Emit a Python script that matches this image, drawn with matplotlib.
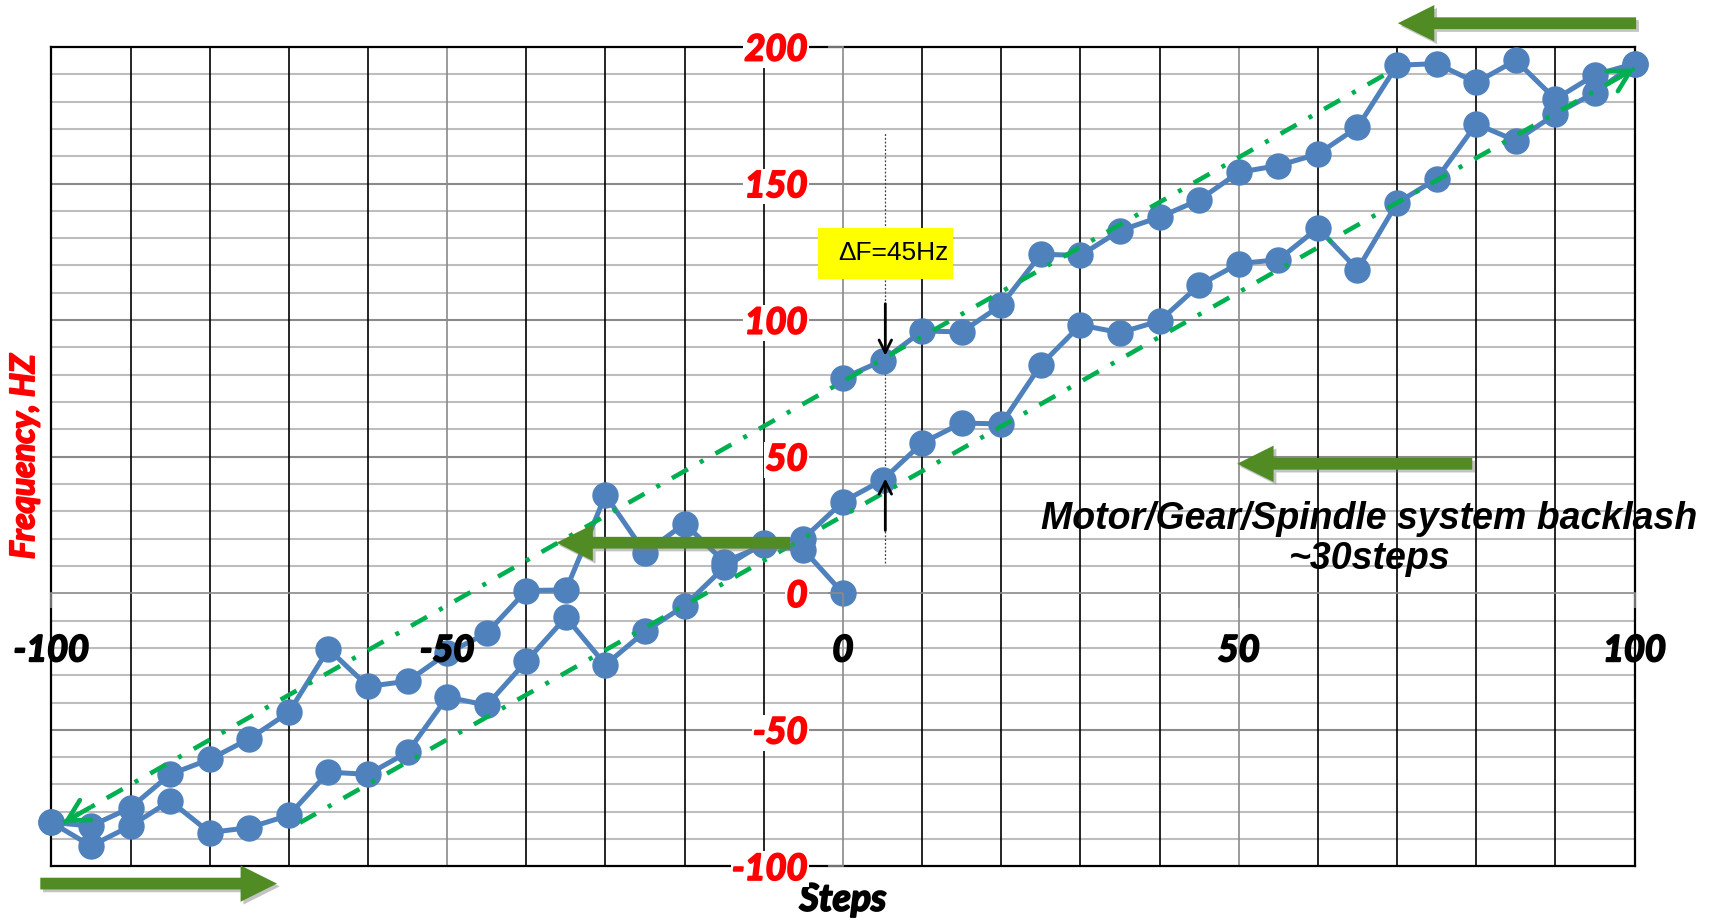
import numpy as np
import matplotlib.pyplot as plt
import matplotlib.patheffects as pe
from matplotlib.patches import FancyArrow, Rectangle

plt.rcParams['axes.unicode_minus'] = False

# --- measured stepper response -------------------------------------------
# first jog: from 0 out to -100 steps
steps_out = [0, -5, -10, -15, -20, -25, -30, -35, -40, -45, -50,
             -55, -60, -65, -70, -75, -80, -85, -90, -95, -100]
freq_out = [0.0, 16.0, 17.5, 11.5, 25.5, 14.8, 35.9, 1.2, 1.0, -14.6, -22.0,
            -32.2, -34.1, -20.4, -43.6, -53.3, -60.8, -66.3, -78.5, -85.2, -83.9]

# forward sweep: -100 -> +100
steps_fwd = [-100, -95, -90, -85, -80, -75, -70, -65, -60, -55, -50,
             -45, -40, -35, -30, -25, -20, -15, -10, -5, 0,
             5, 10, 15, 20, 25, 30, 35, 40, 45, 50,
             55, 60, 65, 70, 75, 80, 85, 90, 95, 100]
freq_fwd = [-83.9, -92.5, -85.2, -76.0, -87.6, -85.8, -81.3, -65.5, -66.3, -58.2, -38.0,
            -41.0, -24.9, -8.8, -26.2, -14.0, -4.5, 9.5, 18.5, 20.0, 33.5,
            41.4, 55.0, 62.3, 62.0, 83.6, 98.2, 95.4, 99.7, 112.8, 120.7,
            122.1, 133.7, 118.5, 142.9, 151.7, 171.8, 165.7, 175.4, 183.3, 193.9]

# reverse sweep: +100 -> 0
steps_rev = [100, 95, 90, 85, 80, 75, 70, 65, 60, 55, 50,
             45, 40, 35, 30, 25, 20, 15, 10, 5, 0]
freq_rev = [193.9, 189.8, 180.9, 195.1, 187.0, 193.9, 193.3, 170.6, 160.8, 156.6, 154.1,
            144.0, 137.7, 132.8, 123.7, 124.1, 105.5, 95.7, 96.0, 85.2, 78.7]

# hand-fitted envelopes of the two sweep directions
trend_upper_x = [-98.5, 69.4]
trend_upper_y = [-84.0, 191.4]
trend_lower_x = [-68.6, 100.0]
trend_lower_y = [-84.0, 192.1]

x_ticks = [-100, -50, 0, 50, 100]
y_ticks = [-100, -50, 0, 50, 100, 150, 200]

# backlash read at +5 steps
delta_f = 45
f_top = 87
backlash_text = "Motor/Gear/Spindle system backlash\n~30steps"

BLUE = '#4f81bd'
GREEN_LINE = '#00b050'
GREEN_ARROW = '#508c23'
GRID_LIGHT = '#bdbdbd'
GRID_DARK = '#8a8a8a'
CALIBRI_LIKE = 'Lato'
ARIAL_LIKE = ['Liberation Sans', 'DejaVu Sans']


def heavy(color):
    # Lato bold is lighter than the usual heavy axis lettering; thicken it a bit
    return [pe.withStroke(linewidth=1.4, foreground=color)]


fig = plt.figure(figsize=(17.13, 9.21), dpi=100)
ax = fig.add_axes([0.0300, 0.0593, 0.9242, 0.8897])
ax.set_xlim(-100, 100)
ax.set_ylim(-100, 200)

# --- grid: black every 10 steps, grey on the 50s -------------------------
for x in np.arange(-90, 100, 10):
    if x == 0:
        continue
    col = GRID_DARK if x % 50 == 0 else 'black'
    ax.axvline(x, color=col, lw=1.2, zorder=0.5)
for y in np.arange(-90, 200, 10):
    if y == 0:
        continue
    col = GRID_DARK if y % 50 == 0 else GRID_LIGHT
    ax.axhline(y, color=col, lw=1.5, zorder=0.4)
for y in (-100, 200):
    ax.axhline(y, color='black', lw=1.6, zorder=0.6, clip_on=False)
for x in (-100, 100):
    ax.axvline(x, color='black', lw=1.6, zorder=0.6, clip_on=False)

# axes cross at the origin
for side in ('top', 'right'):
    ax.spines[side].set_visible(False)
ax.spines['left'].set_position(('data', 0))
ax.spines['bottom'].set_position(('data', 0))
for side in ('left', 'bottom'):
    ax.spines[side].set_color(GRID_DARK)
    ax.spines[side].set_linewidth(1.2)
    ax.spines[side].set_zorder(0.7)

ax.set_xticks(x_ticks)
ax.set_xticklabels([str(v) for v in x_ticks])
ax.set_yticks(y_ticks)
ax.set_yticklabels([str(v) for v in y_ticks])
ax.tick_params(axis='both', direction='out', length=10.5, width=1.2, color=GRID_DARK, labelsize=26)
ax.tick_params(axis='x', pad=19, labelcolor='black')
ax.tick_params(axis='y', pad=15, labelcolor='red')
for lab in ax.get_xticklabels():
    lab.set_path_effects(heavy('black'))
for lab in ax.get_yticklabels():
    lab.set_path_effects(heavy('red'))
    lab.set_bbox(dict(facecolor='white', edgecolor='none', pad=1))
for lab in ax.get_xticklabels() + ax.get_yticklabels():
    lab.set_fontfamily(CALIBRI_LIKE)
    lab.set_fontweight('bold')
    lab.set_fontstyle('italic')
ax.xaxis.set_zorder(7)
ax.yaxis.set_zorder(7)

# --- measurements --------------------------------------------------------
for sx, fy in ((steps_out, freq_out), (steps_fwd, freq_fwd), (steps_rev, freq_rev)):
    ax.plot(sx, fy, color=BLUE, lw=3.6, marker='o', ms=18, mec=BLUE, mfc=BLUE,
            solid_joinstyle='round', zorder=3, clip_on=False)

# envelopes with direction heads
dash = (0, (4.0, 3.0, 0.9, 3.0))
for tx, ty in ((trend_upper_x, trend_upper_y), (trend_lower_x, trend_lower_y)):
    ax.plot(tx, ty, color=GREEN_LINE, lw=3.3, linestyle=dash, zorder=4,
            dash_capstyle='butt', clip_on=False)


def head(tip, other):
    # short stub along the envelope so the head follows its slope
    frac = 0.02
    base = (tip[0] + (other[0] - tip[0]) * frac, tip[1] + (other[1] - tip[1]) * frac)
    ax.annotate('', xy=tip, xytext=base, zorder=4,
                arrowprops=dict(arrowstyle='->,head_length=1.0,head_width=0.55',
                                color=GREEN_LINE, lw=3.3, mutation_scale=15,
                                shrinkA=0, shrinkB=0))


head((trend_upper_x[0], trend_upper_y[0]), (trend_upper_x[1], trend_upper_y[1]))
head((trend_lower_x[1], trend_lower_y[1]), (trend_lower_x[0], trend_lower_y[0]))

# --- backlash annotation ---------------------------------------------------
x_df = 5.35
ax.plot([x_df, x_df], [11, 168.5], color='#404040', lw=0.9, linestyle=(0, (1.5, 1.5)), zorder=2)
ax.annotate('', xy=(x_df, f_top), xytext=(x_df, f_top + 19), zorder=6,
            arrowprops=dict(arrowstyle='->,head_length=0.6,head_width=0.3', color='black',
                            lw=2, mutation_scale=15, shrinkA=0, shrinkB=0))
ax.annotate('', xy=(x_df, f_top - delta_f), xytext=(x_df, f_top - delta_f - 19), zorder=6,
            arrowprops=dict(arrowstyle='->,head_length=0.6,head_width=0.3', color='black',
                            lw=2, mutation_scale=15, shrinkA=0, shrinkB=0))
ax.add_patch(Rectangle((-3.2, 115.0), 17.1, 18.6, facecolor='#ffff00', edgecolor='none', zorder=6))
ax.text(6.4, 124.4, f"\u0394F={delta_f}Hz", family=ARIAL_LIKE, fontsize=19, color='black',
        ha='center', va='center', zorder=7)

# direction-of-travel block arrows
arrow_shadow = [pe.SimplePatchShadow(offset=(2, -2), shadow_rgbFace='#7a7a7a', alpha=0.45), pe.Normal()]
for tail, tip, hz in ((100.2, 70.1, 208.7), (-101.4, -71.5, -106.3),
                      (-6.7, -36.2, 18.5), (79.5, 49.8, 47.4)):
    arr = FancyArrow(tail, hz, tip - tail, 0, width=4.3, head_width=13.3, head_length=4.6,
                     length_includes_head=True, facecolor=GREEN_ARROW, edgecolor='none',
                     zorder=8, clip_on=False)
    arr.set_path_effects(arrow_shadow)
    ax.add_patch(arr)

ax.text(66.5, 19.8, backlash_text, family=ARIAL_LIKE, fontsize=27, fontweight='bold',
        fontstyle='italic', ha='center', va='center', linespacing=1.15, zorder=9)

# axis titles
ax.text(-0.017, 0.5, 'Frequency, HZ', transform=ax.transAxes, rotation=90, color='red',
        fontsize=24, fontweight='bold', fontstyle='italic', family=CALIBRI_LIKE,
        ha='center', va='center', path_effects=heavy('red'))
ax.text(0.5, -0.040, 'Steps', transform=ax.transAxes, color='black',
        fontsize=27, fontweight='bold', fontstyle='italic', family=CALIBRI_LIKE,
        ha='center', va='center', path_effects=heavy('black'))

fig.savefig('out.png', dpi=100, facecolor='white')
